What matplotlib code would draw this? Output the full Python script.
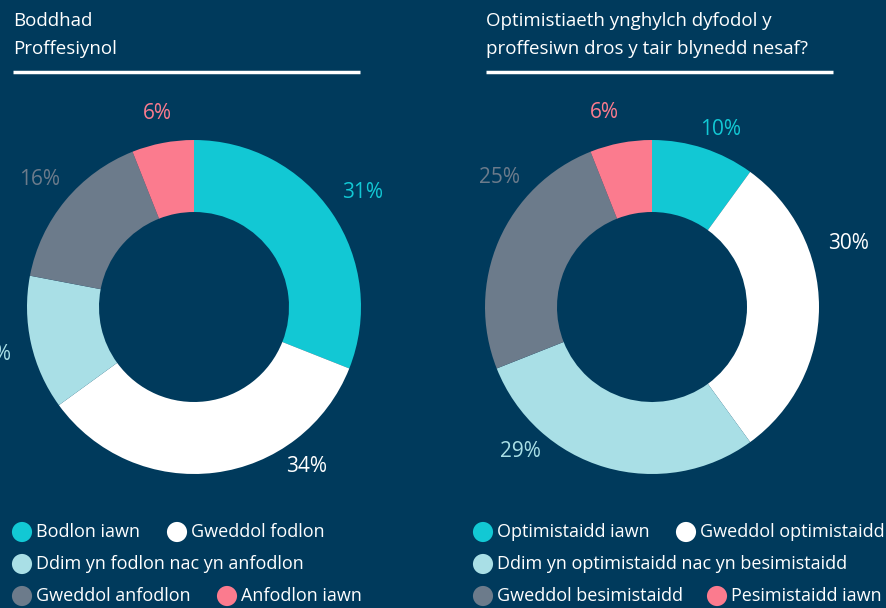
import numpy as np
import matplotlib
matplotlib.use("Agg")
import matplotlib.pyplot as plt

BG = "#003a5c"
COLORS = ["#12c8d4", "#ffffff", "#a9dfe6", "#6c7b8b", "#fb7b8e"]
LABEL_COLORS = ["#12c8d4", "#ffffff", "#a9dfe6", "#6c7b8b", "#fb7b8e"]

left_title = ["Boddhad", "Proffesiynol"]
left_values = [31, 34, 13, 16, 6]
left_names = ["Bodlon iawn", "Gweddol fodlon", "Ddim yn fodlon nac yn anfodlon",
              "Gweddol anfodlon", "Anfodlon iawn"]

right_title = ["Optimistiaeth ynghylch dyfodol y",
               "proffesiwn dros y tair blynedd nesaf?"]
right_values = [10, 30, 29, 25, 6]
right_names = ["Optimistaidd iawn", "Gweddol optimistaidd",
               "Ddim yn optimistaidd nac yn besimistaidd",
               "Gweddol besimistaidd", "Pesimistaidd iawn"]

# label placement tweaks: angle nudge (deg) and distance (x outer radius)
left_nudge = [0, 28, 0.6, 0, 0]
left_dist = [1.22, 1.17, 1.25, 1.2, 1.18]
right_nudge = [-3, 18, -26, -17, 3]
right_dist = [1.14, 1.24, 1.17, 1.2, 1.2]

W, H = 887, 608
plt.rcParams["font.family"] = ["Open Sans", "DejaVu Sans"]

fig = plt.figure(figsize=(W / 100, H / 100), dpi=100, facecolor=BG)
ax = fig.add_axes([0, 0, 1, 1])
ax.set_facecolor(BG)

R = 167
WIDTH = 72


def donut(cx, cy, values, nudges, dists):
    ax.pie(values, colors=COLORS, startangle=90, counterclock=False,
           center=(cx, cy), radius=R,
           wedgeprops=dict(width=WIDTH, edgecolor="none"))
    total = sum(values)
    cum = 0
    for i, v in enumerate(values):
        mid = 90 - 360 * (cum + v / 2) / total + nudges[i]
        cum += v
        a = np.deg2rad(mid)
        r = dists[i] * R
        ax.text(cx + r * np.cos(a), cy + r * np.sin(a), f"{v}%",
                color=LABEL_COLORS[i], fontsize=15, ha="center", va="center")


def header(x0, x1, lines):
    for k, line in enumerate(lines):
        ax.text(x0, H - 21 - 28 * k, line, color="white", fontsize=13.5,
                ha="left", va="center")
    ax.plot([x0, x1], [H - 72, H - 72], color="white", lw=2.5,
            solid_capstyle="butt")


def legend(x_rows, names):
    # x_rows: (row index, x of marker) for each series
    rows_y = [H - 532, H - 564, H - 596]
    for i, (row, x) in enumerate(x_rows):
        y = rows_y[row]
        ax.scatter([x + 9], [y], s=210, color=COLORS[i], edgecolors="none",
                   zorder=3)
        ax.text(x + 23, y, names[i], color="white", fontsize=13,
                ha="left", va="center")


donut(194, H - 307, left_values, left_nudge, left_dist)
donut(652, H - 307, right_values, right_nudge, right_dist)

header(13, 360, left_title)
header(486, 833, right_title)

legend([(0, 13), (0, 168), (1, 13), (2, 13), (2, 218)], left_names)
legend([(0, 474), (0, 677), (1, 474), (2, 474), (2, 708)], right_names)

ax.set_xlim(0, W)
ax.set_ylim(0, H)
ax.set_aspect("auto")
ax.axis("off")

fig.savefig("out.png", dpi=100, facecolor=BG)
